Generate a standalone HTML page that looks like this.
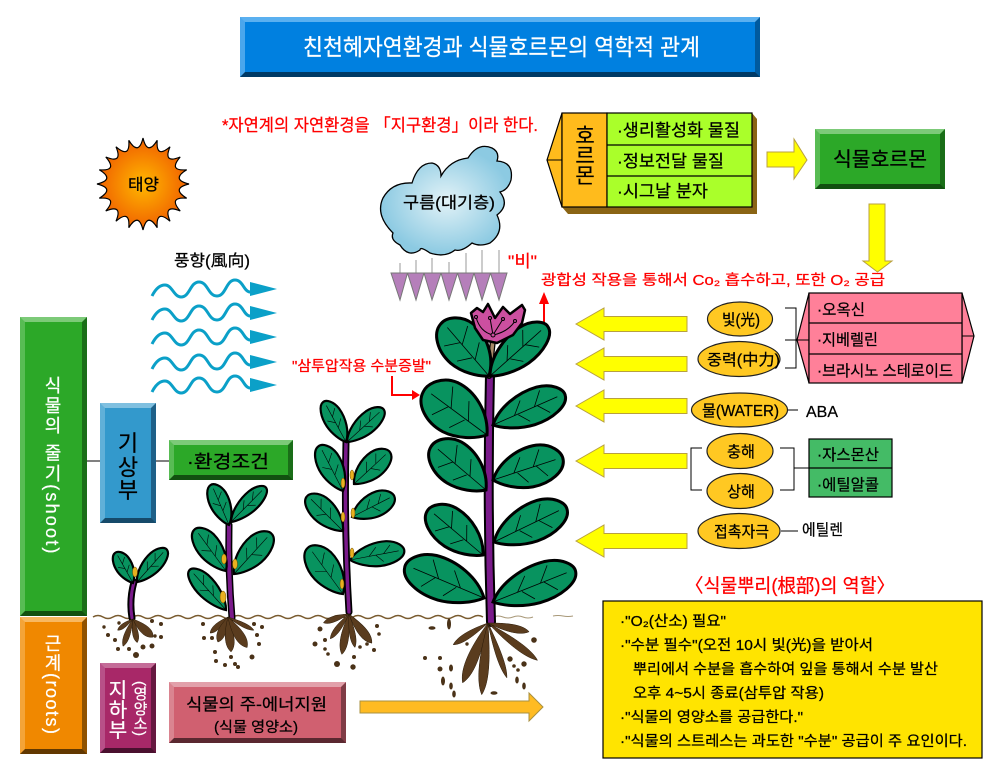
<!DOCTYPE html>
<html><head><meta charset="utf-8"><style>
html,body{margin:0;padding:0;background:#fff}
#p{position:relative;width:1000px;height:775px;overflow:hidden;background:#fff;font-family:"Liberation Sans","Noto Sans CJK KR",sans-serif}
.b{position:absolute;box-sizing:border-box;border-style:solid;border-width:5px}
.v{position:absolute;writing-mode:vertical-rl;text-orientation:mixed;white-space:nowrap;color:#fff;-webkit-text-stroke:.25px #fff}
svg{position:absolute;left:0;top:0}
svg text{font-family:"Liberation Sans","Noto Sans CJK KR",sans-serif;stroke:#000;stroke-width:.25px}
svg text[fill="#f00"]{stroke:#f00}
svg text[fill="#fff"]{stroke:#fff}
.l{vector-effect:non-scaling-stroke}
</style></head><body><div id="p">
<div class="b" style="left:240px;top:17px;width:520px;height:60px;background:#0080e0;border-color:#5ab0f0 #005a9e #003a66 #4aa6ec"></div>
<div class="b" style="left:815px;top:129px;width:130px;height:60px;background:#2ca828;border-color:#7cca78 #1a6e18 #125010 #58bc54"></div>
<div class="b" style="left:20px;top:317px;width:67px;height:299px;background:#2ca828;border-color:#7cca78 #1a6e18 #125010 #58bc54"></div>
<div class="b" style="left:20px;top:617px;width:67px;height:137px;background:#f08800;border-color:#f8b860 #905200 #623800 #f4a438"></div>
<div class="b" style="left:100px;top:403px;width:56px;height:120px;background:#3399cc;border-color:#80c0e0 #1e6088 #164a6a #60b0d8"></div>
<div class="b" style="left:169px;top:440px;width:124px;height:40px;background:#2ca828;border-color:#7cca78 #1a6e18 #125010 #58bc54"></div>
<div class="b" style="left:100px;top:663px;width:56px;height:90px;background:#a82868;border-color:#c46c98 #661840 #4a102e #b85088"></div>
<div class="b" style="left:169px;top:682px;width:177px;height:61px;background:#d06070;border-color:#e2a0aa #803c46 #5a2830 #da8490"></div>
<div class="v" style="left:38px;top:376px;font-size:18px;line-height:28px;letter-spacing:2.2px">식물의 줄기(shoot)</div>
<div class="v" style="left:38px;top:634px;font-size:18px;line-height:28px;letter-spacing:1.5px">근계(roots)</div>
<div class="v" style="left:129px;top:681px;font-size:15px;line-height:20px;color:#fff">(영양소)</div>

<svg width="1000" height="775" viewBox="0 0 1000 775">
<defs>
<radialGradient id="sun"><stop offset="0" stop-color="#ffb800"/><stop offset="1" stop-color="#f06000"/></radialGradient>
<radialGradient id="cl"><stop offset="0" stop-color="#e2f2f7"/><stop offset="1" stop-color="#8ccae2"/></radialGradient>
<g id="leaf">
<path class="l" fill="#08935f" stroke="#000" d="M0,0C15,-20 45,-30 70,-27C90,-24 102,-10 100,0C98,14 75,24 50,22C30,20 10,10 0,0Z"/>
<path class="l" fill="none" stroke="#000" stroke-width=".8" d="M0,0L90,-3M30,-1L44,-18M58,-2L72,-21M35,0L46,15M62,-2L74,14"/>
</g>
<g id="leaf2">
<path class="l" fill="#08935f" stroke="#000" d="M0,0C15,-20 45,-30 70,-27C90,-24 102,-10 100,0C98,14 75,24 50,22C30,20 10,10 0,0Z"/>
<path class="l" fill="none" stroke="#000" stroke-width=".6" d="M0,0L90,-3M35,-1L50,-18M62,-2L76,-18M48,-1L60,14"/>
</g>
<path id="root" fill="#5a3c1e" stroke="#2a1a08" stroke-width=".5" class="l" d="M0,0C40,-4 80,-7 100,0C80,7 40,5 0,0Z"/>
<path id="wave" fill="none" stroke="#0ba0c8" stroke-width="3" d="M152,7C156,-1 160,-4 165,-4C172,-4 174,8 181,8C190,8 190,-7 199,-7C208,-7 208,7 217,7C226,7 226,-9 235,-9C243,-9 244,3 250,3"/>
<path id="ah" fill="#0ba0c8" d="M250,-7L277,0L250,7Z"/>
<path id="la" fill="#ffff00" stroke="#b8a040" d="M576,0L604,-16V-7.5H687V7.5H604V16Z"/>
</defs>

<!-- connectors -->
<path d="M87,461H100M156,461H169" stroke="#000" fill="none"/>

<!-- sun -->
<path fill="url(#sun)" stroke="#000" stroke-width="1.2" d="M189,184Q170.7,188.4 186.7,198.2Q167.9,196.7 180.2,211Q162.8,203.8 170,221.2Q155.7,208.9 157.2,227.7Q147.4,211.7 143,230Q138.6,211.7 128.8,227.7Q130.3,208.9 116,221.2Q123.2,203.8 105.8,211Q118.1,196.7 99.3,198.2Q115.3,188.4 97,184Q115.3,179.6 99.3,169.8Q118.1,171.3 105.8,157Q123.2,164.2 116,146.8Q130.3,159.1 128.8,140.3Q138.6,156.3 143,138Q147.4,156.3 157.2,140.3Q155.7,159.1 170,146.8Q162.8,164.2 180.2,157Q167.9,171.3 186.7,169.8Q170.7,179.6 189,184Z"/>
<text x="128" y="190" font-size="16" textLength="31" lengthAdjust="spacingAndGlyphs">태양</text>

<!-- wind -->
<text x="174" y="266" font-size="16" textLength="76" lengthAdjust="spacingAndGlyphs">풍향(風向)</text>
<use href="#wave" y="289"/><use href="#ah" y="289"/>
<use href="#wave" y="313"/><use href="#ah" y="313"/>
<use href="#wave" y="337"/><use href="#ah" y="337"/>
<use href="#wave" y="362"/><use href="#ah" y="362"/>
<use href="#wave" y="385"/><use href="#ah" y="385"/>

<!-- cloud & rain -->
<path fill="url(#cl)" stroke="#000" stroke-width="1.3" d="M393,233Q375,215 383,198Q392,182 412,183Q418,163 432,163Q441,165 441,176Q450,160 468,158Q478,142 492,148Q500,152 497,161Q514,162 511,180Q508,190 500,192Q510,205 497,215Q505,232 490,243Q480,247 472,243Q462,252 455,250Q445,258 430,253Q420,246 420,250Q408,258 400,245Q390,240 393,233Z"/>
<text x="403" y="208" font-size="16" textLength="92" lengthAdjust="spacingAndGlyphs">구름(대기층)</text>
<path stroke="#999" fill="none" d="M400,263V273M416,260V273M432,258V273M449,262V273M466,253V273M482,250V273M499,250V273"/>
<path fill="#b57fba" stroke="#777" d="M391,273H407.5L400,300ZM407.5,273H424L416,300ZM424,273H441L432,300ZM441,273H457.5L449,300ZM457.5,273H474L466,300ZM474,273H490.5L482,300ZM490.5,273H507L499,300Z"/>
<text x="508" y="267" font-size="17" fill="#f00" textLength="29" lengthAdjust="spacingAndGlyphs">"비"</text>

<!-- red texts -->
<text x="222" y="131" font-size="17" fill="#f00" textLength="316" lengthAdjust="spacingAndGlyphs">*자연계의 자연환경을 「지구환경」이라 한다.</text>
<text x="541" y="285" font-size="14.5" fill="#f00" textLength="344" lengthAdjust="spacingAndGlyphs">광합성 작용을 통해서 Co₂ 흡수하고, 또한 O₂ 공급</text>
<text x="292" y="371" font-size="14.5" fill="#f00" textLength="139" lengthAdjust="spacingAndGlyphs">"삼투압작용 수분증발"</text>
<path d="M544,322V304" stroke="#f00" stroke-width="2"/><path d="M539,304H549L544,292Z" fill="#f00"/>
<path d="M392,376V395H412" stroke="#f00" stroke-width="2" fill="none"/><path d="M412,390V400L420,395Z" fill="#f00"/>

<!-- hormone box -->
<path fill="#8a6414" d="M562,207L568,214H757V119L752,113V207Z"/>
<path fill="#ffbb1c" stroke="#000" stroke-width="1.2" d="M562,113L547,160L562,207Z"/>
<path d="M547,160H562" stroke="#000"/>
<rect x="562" y="113" width="45" height="94" fill="#ffbb1c" stroke="#000" stroke-width="1.2"/>
<rect x="607" y="113" width="145" height="94" fill="#aaff2a" stroke="#000" stroke-width="1.2"/>
<path d="M607,145H752M607,176H752" stroke="#000" stroke-width="1.2"/>
<text x="585" y="143" font-size="21" text-anchor="middle">호</text>
<text x="585" y="163" font-size="21" text-anchor="middle">르</text>
<text x="585" y="183" font-size="21" text-anchor="middle">몬</text>
<text x="617" y="136" font-size="17" textLength="123" lengthAdjust="spacingAndGlyphs">·생리활성화 물질</text>
<text x="617" y="167" font-size="17" textLength="107" lengthAdjust="spacingAndGlyphs">·정보전달 물질</text>
<text x="617" y="197" font-size="17" textLength="91" lengthAdjust="spacingAndGlyphs">·시그날 분자</text>
<path fill="#ffff00" stroke="#b8a040" d="M767,152H794V139L807,160L794,179V167H767Z"/>
<text x="833" y="166" font-size="20" textLength="94" lengthAdjust="spacingAndGlyphs">식물호르몬</text>
<path fill="#ffff00" stroke="#b8a040" d="M869,204H885V261H892L877.5,272L863,261H869Z"/>

<!-- pink box -->
<path fill="#ff8099" stroke="#000" stroke-width="1.2" d="M809,293L797,340L809,383ZM962,293L974,336L962,383Z"/>
<path d="M797,340H809M962,336H974" stroke="#000"/>
<rect x="809" y="293" width="153" height="90" fill="#ff8099" stroke="#000" stroke-width="1.2"/>
<path d="M809,323H962M809,354H962" stroke="#000" stroke-width="1.2"/>
<text x="817" y="315" font-size="15.5" textLength="48" lengthAdjust="spacingAndGlyphs">·오옥신</text>
<text x="817" y="345" font-size="15.5" textLength="61" lengthAdjust="spacingAndGlyphs">·지베렐린</text>
<text x="817" y="376" font-size="15.5" textLength="136" lengthAdjust="spacingAndGlyphs">·브라시노 스테로이드</text>
<path d="M785,308H796V368H785M785,340H797" stroke="#000" fill="none"/>

<!-- ellipses -->
<g fill="#ffc822" stroke="#222" stroke-width="1.2">
<ellipse cx="740" cy="319" rx="32.5" ry="17"/>
<ellipse cx="739" cy="359" rx="41" ry="17.5"/>
<ellipse cx="739.5" cy="410" rx="48" ry="17"/>
<ellipse cx="740" cy="451" rx="33" ry="17.5"/>
<ellipse cx="740" cy="491" rx="33" ry="17.5"/>
<ellipse cx="739" cy="531" rx="41" ry="17.5"/>
</g>
<text x="722" y="325" font-size="15.5" textLength="38" lengthAdjust="spacingAndGlyphs">빛(光)</text>
<text x="707" y="365" font-size="15.5" textLength="73" lengthAdjust="spacingAndGlyphs">중력(中力)</text>
<text x="702" y="416" font-size="15.5" textLength="77" lengthAdjust="spacingAndGlyphs">물(WATER)</text>
<text x="727" y="457" font-size="15.5" textLength="28" lengthAdjust="spacingAndGlyphs">충해</text>
<text x="727" y="497" font-size="15.5" textLength="28" lengthAdjust="spacingAndGlyphs">상해</text>
<text x="714" y="537" font-size="15.5" textLength="55" lengthAdjust="spacingAndGlyphs">접촉자극</text>
<path d="M788,410H798M781,531H798" stroke="#000"/>
<text x="806" y="417" font-size="16" textLength="32" lengthAdjust="spacingAndGlyphs">ABA</text>
<text x="802" y="535" font-size="15.5" textLength="41" lengthAdjust="spacingAndGlyphs">에틸렌</text>
<path d="M702,448H691V490H702M780,448H794V490H780M794,468H809" stroke="#000" fill="none"/>
<rect x="809" y="439" width="83" height="58" fill="#44bb66" stroke="#000" stroke-width="1.2"/>
<path d="M809,468H892" stroke="#000" stroke-width="1.2"/>
<text x="817" y="460" font-size="15.5" textLength="62" lengthAdjust="spacingAndGlyphs">·자스몬산</text>
<text x="817" y="490" font-size="15.5" textLength="62" lengthAdjust="spacingAndGlyphs">·에틸알콜</text>

<!-- left arrows -->
<use href="#la" y="324"/><use href="#la" y="364"/><use href="#la" y="406"/><use href="#la" y="461"/><use href="#la" y="541"/>

<!-- info -->
<text x="685" y="592" font-size="19" fill="#f00" textLength="210" lengthAdjust="spacingAndGlyphs">〈식물뿌리(根部)의 역할〉</text>
<rect x="603" y="601" width="379" height="157" fill="#ffe400" stroke="#000" stroke-width="1.2"/>
<text x="620" y="626" font-size="14.5" textLength="106" lengthAdjust="spacingAndGlyphs">·"O₂(산소) 필요"</text>
<text x="620" y="650" font-size="14.5" textLength="253" lengthAdjust="spacingAndGlyphs">·"수분 필수"(오전 10시 빛(光)을 받아서</text>
<text x="633" y="674" font-size="14.5" textLength="305" lengthAdjust="spacingAndGlyphs">뿌리에서 수분을 흡수하여 잎을 통해서 수분 발산</text>
<text x="633" y="698" font-size="14.5" textLength="191" lengthAdjust="spacingAndGlyphs">오후 4~5시 종료(삼투압 작용)</text>
<text x="620" y="722" font-size="14.5" textLength="183" lengthAdjust="spacingAndGlyphs">·"식물의 영양소를 공급한다."</text>
<text x="620" y="746" font-size="14.5" textLength="347" lengthAdjust="spacingAndGlyphs">·"식물의 스트레스는 과도한 "수분" 공급이 주 요인이다.</text>

<!-- box labels -->
<text x="303" y="55" font-size="23" fill="#fff" textLength="397" lengthAdjust="spacingAndGlyphs">친천혜자연환경과 식물호르몬의 역학적 관계</text>
<text x="128" y="451" font-size="22" text-anchor="middle">기</text>
<text x="128" y="475" font-size="22" text-anchor="middle">상</text>
<text x="128" y="498" font-size="22" text-anchor="middle">부</text>
<text x="187" y="468" font-size="18" textLength="82" lengthAdjust="spacingAndGlyphs">·환경조건</text>
<text x="118" y="697" font-size="20" fill="#fff" text-anchor="middle">지</text>
<text x="118" y="717" font-size="20" fill="#fff" text-anchor="middle">하</text>
<text x="118" y="737" font-size="20" fill="#fff" text-anchor="middle">부</text>
<text x="186" y="710" font-size="16.5" textLength="141" lengthAdjust="spacingAndGlyphs">식물의 주-에너지원</text>
<text x="214" y="732" font-size="14.5" textLength="84" lengthAdjust="spacingAndGlyphs">(식물 영양소)</text>
<path fill="#ffbb22" stroke="#a89040" d="M360,701H529V693L543,707L529,721V713H360Z"/>

<!-- soil -->
<path fill="none" stroke="#7a5c30" stroke-width="1.5" d="M93,617q5,-3 10,0t10,0t10,0t10,0t10,0t10,0t10,0t10,0t10,0t10,0t10,0t10,0t10,0t10,0t10,0t10,0t10,0t10,0t10,0t10,0t10,0t10,0t10,0t10,0t10,0t10,0t10,0t10,0t10,0t10,0t10,0t10,0t10,0t10,0t10,0t10,0t10,0t10,0t10,0"/>
<path fill="none" stroke="#a89878" d="M493,617q5,-2 10,0t10,0t10,0t10,0M553,616q5,-1 10,0t10,0"/>

<!-- stems -->
<g fill="none" stroke-linecap="round">
<path stroke="#000" stroke-width="7" d="M134,582Q129,600 132,618"/><path stroke="#7a1a8a" stroke-width="3" d="M134,582Q129,600 132,618"/>
<path stroke="#000" stroke-width="7" d="M229,525Q228,570 232,618"/><path stroke="#7a1a8a" stroke-width="4" d="M229,525Q228,570 232,618"/>
<path stroke="#000" stroke-width="7" d="M346,442Q344,530 349,612"/><path stroke="#7a1a8a" stroke-width="3.5" d="M346,442Q344,530 349,612"/>
<path stroke="#000" stroke-width="10" d="M490,376Q487,500 491,622"/><path stroke="#7a1a8a" stroke-width="6" d="M490,376Q487,500 491,622"/>
<path stroke="#000" stroke-width="6" d="M489,376L493,340"/><path stroke="#a88a68" stroke-width="3.5" d="M489,376L493,340"/>
</g>

<!-- leaves: big -->
<g stroke-width="3">
<use href="#leaf" transform="translate(489,376) rotate(-133) scale(.71,-.88)"/>
<use href="#leaf" transform="translate(490,376) rotate(-40) scale(.76,.68)"/>
<use href="#leaf" transform="translate(487,435) rotate(-146) scale(.77,-1)"/>
<use href="#leaf" transform="translate(493,425) rotate(-22) scale(.78,.7)"/>
<use href="#leaf" transform="translate(486,490) rotate(-142) scale(.7,-.84)"/>
<use href="#leaf" transform="translate(493,480) rotate(-16) scale(.73,.8)"/>
<use href="#leaf" transform="translate(483,555) rotate(-142) scale(.71,-.76)"/>
<use href="#leaf" transform="translate(494,542) rotate(-24) scale(.8,.76)"/>
<use href="#leaf" transform="translate(484,598) rotate(-159) scale(.85,-.84)"/>
<use href="#leaf" transform="translate(493,602) rotate(-20) scale(.88,.76)"/>
</g>
<g stroke-width="2.2">
<use href="#leaf2" transform="translate(346,442) rotate(-120) scale(.46,-.4)"/>
<use href="#leaf2" transform="translate(347,442) rotate(-41) scale(.49,.4)"/>
<use href="#leaf2" transform="translate(343,491) rotate(-119) scale(.51,-.48)"/>
<use href="#leaf2" transform="translate(354,484) rotate(-41) scale(.48,.48)"/>
<use href="#leaf2" transform="translate(343,531) rotate(-137) scale(.5,-.48)"/>
<use href="#leaf2" transform="translate(352,517) rotate(-25) scale(.47,.48)"/>
<use href="#leaf2" transform="translate(343,594) rotate(-128) scale(.58,-.6)"/>
<use href="#leaf2" transform="translate(350,560) rotate(-9) scale(.55,.48)"/>
<use href="#leaf2" transform="translate(229,525) rotate(-115) scale(.44,-.4)"/>
<use href="#leaf2" transform="translate(231,522) rotate(-44) scale(.49,.36)"/>
<use href="#leaf2" transform="translate(226,571) rotate(-128) scale(.52,-.48)"/>
<use href="#leaf2" transform="translate(234,574) rotate(-46) scale(.55,.52)"/>
<use href="#leaf2" transform="translate(226,610) rotate(-133) scale(.54,-.4)"/>
<use href="#leaf2" transform="translate(133,583) rotate(-121) scale(.35,-.34)"/>
<use href="#leaf2" transform="translate(137,582) rotate(-47) scale(.44,.36)"/>
</g>

<!-- buds -->
<g fill="#e8b020" stroke="#6a4a00" stroke-width=".5">
<ellipse cx="135" cy="572" rx="2.5" ry="5"/><ellipse cx="224" cy="559" rx="2.5" ry="5"/><ellipse cx="235" cy="564" rx="2.5" ry="5"/><ellipse cx="223" cy="597" rx="3" ry="6"/>
<ellipse cx="343" cy="483" rx="2" ry="5"/><ellipse cx="352" cy="475" rx="2" ry="5"/><ellipse cx="343" cy="517" rx="2" ry="5"/><ellipse cx="353" cy="513" rx="2" ry="5"/><ellipse cx="352" cy="553" rx="2" ry="5"/><ellipse cx="342" cy="584" rx="2" ry="5"/>
</g>

<!-- flower -->
<path fill="#cc4fa0" stroke="#000" stroke-width="2.5" stroke-linejoin="round" d="M471,313L477,308L483,312L488,304L495,318L503,307L510,314L522,305L525,310L522,323L513,335L497,343L483,340L475,328Z"/>
<path fill="none" stroke="#000" stroke-width="1" d="M493,335Q480,332 476,317M493,335L490,318M493,335L503,319M493,335Q508,332 515,321"/>
<g fill="#cc4fa0" stroke="#000"><circle cx="476" cy="317" r="1.5"/><circle cx="490" cy="318" r="1.5"/><circle cx="503" cy="319" r="1.5"/><circle cx="515" cy="321" r="1.5"/><circle cx="493" cy="335" r="2"/></g>

<!-- roots -->
<use href="#root" transform="translate(488,623) rotate(148) scale(.41,.75)"/>
<use href="#root" transform="translate(488,623) rotate(113) scale(.65,1.25)"/>
<use href="#root" transform="translate(488,623) rotate(95) scale(.72,1.1)"/>
<use href="#root" transform="translate(488,623) rotate(71) scale(.58,.65)"/>
<use href="#root" transform="translate(488,623) rotate(37) scale(.62,.85)"/>
<use href="#root" transform="translate(488,623) rotate(12) scale(.42,.9)"/>
<use href="#root" transform="translate(349,614) rotate(161) scale(.27,.65)"/>
<use href="#root" transform="translate(349,614) rotate(127) scale(.31,.65)"/>
<use href="#root" transform="translate(349,614) rotate(100) scale(.41,.9)"/>
<use href="#root" transform="translate(349,614) rotate(80) scale(.34,.65)"/>
<use href="#root" transform="translate(349,614) rotate(52) scale(.37,1)"/>
<use href="#root" transform="translate(228,617) rotate(138) scale(.24,.65)"/>
<use href="#root" transform="translate(228,617) rotate(112) scale(.27,.9)"/>
<use href="#root" transform="translate(228,617) rotate(85) scale(.35,1)"/>
<use href="#root" transform="translate(228,617) rotate(58) scale(.36,1.1)"/>
<use href="#root" transform="translate(228,617) rotate(27) scale(.29,.5)"/>
<use href="#root" transform="translate(133,619) rotate(144) scale(.19,.5)"/>
<use href="#root" transform="translate(133,619) rotate(110) scale(.29,.65)"/>
<use href="#root" transform="translate(133,619) rotate(80) scale(.24,.65)"/>
<use href="#root" transform="translate(133,619) rotate(42) scale(.27,1)"/>

<!-- soil dots -->
<g fill="#4a3218">
<circle cx="104" cy="627" r="1.7"/><circle cx="108" cy="635" r="2"/><circle cx="115" cy="640" r="2"/><circle cx="118" cy="649" r="2"/><circle cx="119" cy="623" r="1.7"/><circle cx="129" cy="649" r="2"/><circle cx="136" cy="655" r="3"/><circle cx="143" cy="647" r="2.5"/><circle cx="152" cy="646" r="2.5"/><circle cx="161" cy="637" r="2"/><circle cx="155" cy="636" r="1.7"/><circle cx="161" cy="624" r="2"/><circle cx="152" cy="621" r="2"/>
<circle cx="203" cy="624" r="2"/><circle cx="204" cy="638" r="2"/><circle cx="212" cy="638" r="2"/><circle cx="215" cy="652" r="2"/><circle cx="216" cy="661" r="2"/><circle cx="225" cy="665" r="2"/><circle cx="231" cy="657" r="2"/><circle cx="235" cy="664" r="2"/><circle cx="238" cy="667" r="2"/><circle cx="252" cy="657" r="2.5"/><circle cx="259" cy="644" r="2"/><circle cx="257" cy="635" r="2"/><circle cx="262" cy="627" r="2"/><circle cx="254" cy="624" r="2"/>
<circle cx="320" cy="629" r="2.5"/><circle cx="325" cy="640" r="2"/><circle cx="315" cy="644" r="2.5"/><circle cx="325" cy="649" r="1.8"/><circle cx="328" cy="654" r="1.8"/><circle cx="337" cy="664" r="3"/><circle cx="353" cy="667" r="2.7"/><circle cx="354" cy="657" r="2"/><circle cx="360" cy="647" r="1.8"/><circle cx="367" cy="644" r="1.8"/><circle cx="374" cy="650" r="2"/><circle cx="379" cy="634" r="1.8"/><circle cx="377" cy="626" r="2"/>
<ellipse cx="432" cy="628" rx="3.5" ry="1.8"/><ellipse cx="449" cy="624" rx="2" ry="5.5"/><circle cx="425" cy="658" r="2"/><circle cx="440" cy="658" r="2"/><circle cx="440" cy="669" r="2.5"/><ellipse cx="451" cy="668" rx="2" ry="3.5"/><ellipse cx="443" cy="681" rx="2" ry="4.5"/><ellipse cx="451" cy="686" rx="1.8" ry="3.5"/><ellipse cx="454" cy="694" rx="1.8" ry="3.5"/><ellipse cx="494" cy="693" rx="3.5" ry="1.8"/><circle cx="467" cy="644" r="1.7"/><circle cx="534" cy="640" r="2.8"/><circle cx="510" cy="659" r="2.7"/><circle cx="514" cy="666" r="1.8"/><circle cx="518" cy="670" r="1.8"/><circle cx="524" cy="664" r="2.7"/><ellipse cx="517" cy="680" rx="1.8" ry="3.5"/><ellipse cx="524" cy="686" rx="1.8" ry="3.5"/>
</g>
</svg>
</div></body></html>
